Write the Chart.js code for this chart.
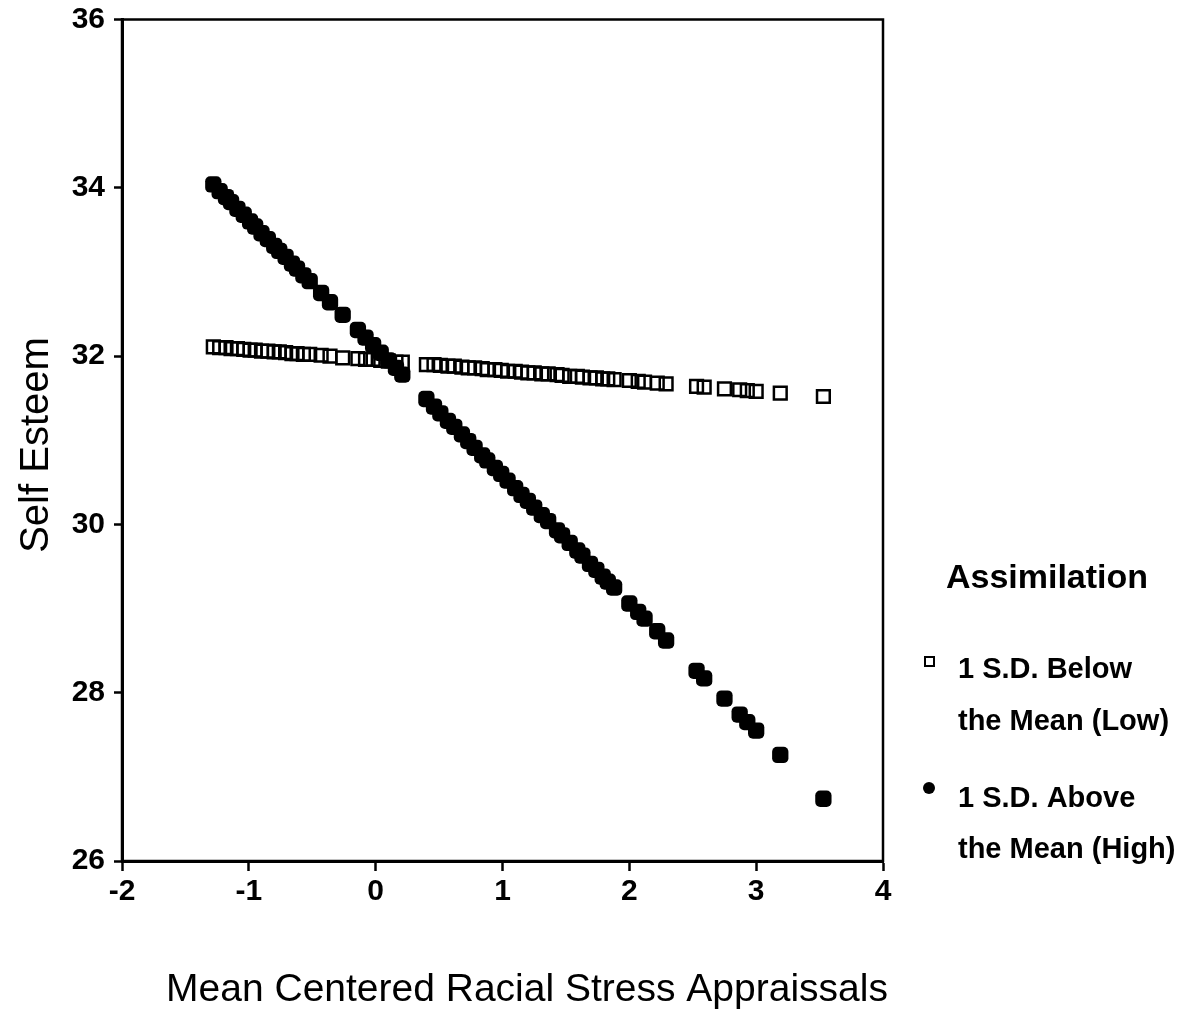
<!DOCTYPE html>
<html>
<head>
<meta charset="utf-8">
<title>Self Esteem by Racial Stress Appraisals</title>
<script src="https://cdn.jsdelivr.net/npm/chart.js@4.4.1/dist/chart.umd.min.js"></script>
<style>
  html, body { margin: 0; padding: 0; background: #fff; }
  #wrap { width: 1188px; height: 1013px; }
</style>
</head>
<body>
<div id="wrap"><canvas id="esteemChart" width="1188" height="1013"></canvas></div>
<script>
// Mean centered racial stress appraisal values (shared by both groups)
const stressX = [
  -1.28, -1.23, -1.18, -1.14, -1.09, -1.04, -0.99, -0.95, -0.90, -0.85,
  -0.80, -0.76, -0.71, -0.66, -0.62, -0.57, -0.52, -0.43, -0.36, -0.26,
  -0.14, -0.08, -0.02, 0.04, 0.10, 0.16, 0.21,
  0.40, 0.46, 0.51, 0.57, 0.62, 0.68, 0.73, 0.78, 0.84, 0.88,
  0.94, 0.99, 1.04, 1.10, 1.15, 1.20, 1.25, 1.31, 1.36, 1.43,
  1.47, 1.53, 1.59, 1.63, 1.69, 1.74, 1.79, 1.83, 1.88, 2.00,
  2.07, 2.12, 2.22, 2.29, 2.53, 2.59, 2.75, 2.87, 2.93, 3.00,
  3.19, 3.53
];

// Predicted self esteem, 1 S.D. below the mean on assimilation
const lowY = [
  32.11, 32.10, 32.10, 32.09, 32.09, 32.08, 32.07, 32.07, 32.06, 32.06,
  32.05, 32.05, 32.04, 32.03, 32.03, 32.02, 32.02, 32.01, 32.00, 31.98,
  31.97, 31.96, 31.96, 31.95, 31.94, 31.93, 31.93,
  31.90, 31.90, 31.89, 31.88, 31.88, 31.87, 31.86, 31.86, 31.85, 31.84,
  31.84, 31.83, 31.82, 31.82, 31.81, 31.80, 31.80, 31.79, 31.79, 31.78,
  31.77, 31.76, 31.76, 31.75, 31.74, 31.74, 31.73, 31.73, 31.72, 31.71,
  31.70, 31.69, 31.68, 31.67, 31.64, 31.63, 31.61, 31.60, 31.59, 31.58,
  31.56, 31.52
];

// Predicted self esteem, 1 S.D. above the mean on assimilation
const highY = [
  34.04, 33.96, 33.89, 33.83, 33.75, 33.68, 33.60, 33.54, 33.46, 33.39,
  33.31, 33.25, 33.18, 33.10, 33.04, 32.96, 32.89, 32.75, 32.64, 32.49,
  32.31, 32.22, 32.13, 32.04, 31.95, 31.86, 31.78,
  31.49, 31.40, 31.32, 31.23, 31.16, 31.07, 30.99, 30.91, 30.82, 30.76,
  30.67, 30.60, 30.52, 30.43, 30.35, 30.28, 30.20, 30.11, 30.04, 29.93,
  29.87, 29.78, 29.69, 29.63, 29.53, 29.46, 29.38, 29.32, 29.25, 29.06,
  28.96, 28.88, 28.73, 28.62, 28.26, 28.17, 27.93, 27.74, 27.65, 27.55,
  27.26, 26.74
];

const xTicks = [-2, -1, 0, 1, 2, 3, 4];
const yTicks = [26, 28, 30, 32, 34, 36];

const xTitle = 'Mean Centered Racial Stress Appraissals';
const yTitle = 'Self Esteem';
const legendTitle = 'Assimilation';
const legendLabels = [
  ['1 S.D. Below', 'the Mean (Low)'],
  ['1 S.D. Above', 'the Mean (High)']
];

const FONT = '"Liberation Sans", Arial, Helvetica, sans-serif';

function toPoints(ys) {
  return stressX.map((x, i) => ({ x: x, y: ys[i] }));
}

// Box frame, axis titles and the legend drawn on the canvas
const decorations = {
  id: 'decorations',
  afterDatasetsDraw(chart) {
    const ctx = chart.ctx;
    const a = chart.chartArea;
    ctx.save();
    ctx.strokeStyle = '#000';
    ctx.lineWidth = 2.5;
    ctx.strokeRect(a.left, a.top, a.right - a.left, a.bottom - a.top);
    ctx.restore();
  },
  afterDraw(chart) {
    const ctx = chart.ctx;
    ctx.save();
    ctx.fillStyle = '#000';

    // x title
    ctx.font = '39px ' + FONT;
    ctx.textAlign = 'center';
    ctx.textBaseline = 'alphabetic';
    ctx.fillText(xTitle, 527, 1001);

    // y title
    ctx.save();
    ctx.font = '40px ' + FONT;
    ctx.translate(48, 445);
    ctx.rotate(-Math.PI / 2);
    ctx.fillText(yTitle, 0, 0);
    ctx.restore();

    // legend
    ctx.font = 'bold 34px ' + FONT;
    ctx.textAlign = 'center';
    ctx.fillText(legendTitle, 1047, 588);

    ctx.font = 'bold 29px ' + FONT;
    ctx.textAlign = 'left';
    ctx.fillText(legendLabels[0][0], 958, 678);
    ctx.fillText(legendLabels[0][1], 958, 730);
    ctx.fillText(legendLabels[1][0], 958, 807);
    ctx.fillText(legendLabels[1][1], 958, 858);

    ctx.lineWidth = 2;
    ctx.strokeStyle = '#000';
    ctx.strokeRect(925, 657, 9, 9);
    ctx.beginPath();
    ctx.arc(929, 788, 6, 0, Math.PI * 2);
    ctx.fill();
    ctx.restore();
  }
};

const ctx = document.getElementById('esteemChart').getContext('2d');
const chart = new Chart(ctx, {
  type: 'scatter',
  data: {
    datasets: [
      {
        label: legendLabels[1].join(' '),
        data: toPoints(highY),
        pointStyle: 'rectRounded',
        pointRadius: 9.5,
        pointHoverRadius: 9.5,
        backgroundColor: '#000',
        borderColor: '#000',
        borderWidth: 0
      },
      {
        label: legendLabels[0].join(' '),
        data: toPoints(lowY),
        pointStyle: 'rect',
        pointRadius: 9,
        pointHoverRadius: 9,
        backgroundColor: 'rgba(255,255,255,0)',
        borderColor: '#000',
        borderWidth: 2.5
      }
    ]
  },
  options: {
    responsive: false,
    animation: false,
    layout: { padding: { top: 19, right: 305, left: 0, bottom: 0 } },
    plugins: {
      legend: { display: false },
      tooltip: { enabled: false }
    },
    scales: {
      x: {
        type: 'linear',
        min: -2,
        max: 4,
        afterFit(scale) { scale.height = 152; },
        afterBuildTicks(scale) { scale.ticks = xTicks.map(v => ({ value: v })); },
        grid: { drawOnChartArea: false, drawTicks: true, tickLength: 10, tickWidth: 2.5, tickColor: '#000' },
        border: { display: true, color: '#000', width: 3 },
        ticks: { color: '#000', font: { family: FONT, size: 30, weight: 'bold' }, padding: 3, maxRotation: 0 }
      },
      y: {
        type: 'linear',
        min: 26,
        max: 36,
        afterFit(scale) { scale.width = 122; },
        afterBuildTicks(scale) { scale.ticks = yTicks.map(v => ({ value: v })); },
        grid: { drawOnChartArea: false, drawTicks: true, tickLength: 8, tickWidth: 2.5, tickColor: '#000' },
        border: { display: true, color: '#000', width: 3 },
        ticks: { color: '#000', font: { family: FONT, size: 30, weight: 'bold', lineHeight: 0.7 }, padding: 9 }
      }
    }
  },
  plugins: [decorations]
});
</script>
</body>
</html>
